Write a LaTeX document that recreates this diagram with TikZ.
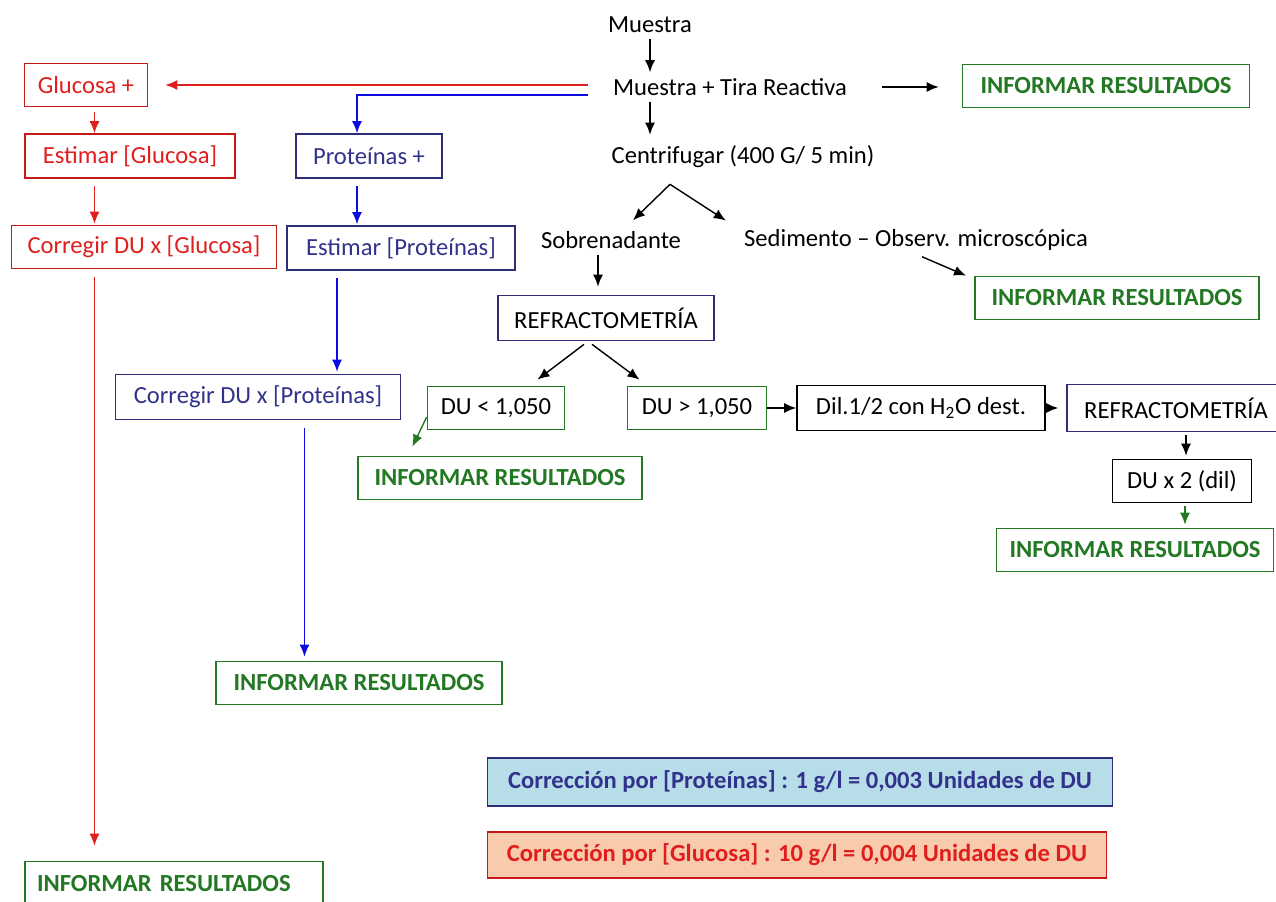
\documentclass[tikz,border=0pt]{standalone}
\usepackage{fontspec}
\setmainfont{Carlito}
\usetikzlibrary{arrows.meta}
\definecolor{rojo}{RGB}{225,30,30}
\definecolor{rojoB}{RGB}{200,25,25}
\definecolor{azul}{RGB}{10,10,225}
\definecolor{azulB}{RGB}{45,45,120}
\definecolor{azulT}{RGB}{50,50,140}
\definecolor{verde}{RGB}{35,120,35}
\definecolor{celeste}{RGB}{183,222,232}
\definecolor{salmon}{RGB}{248,203,173}
\begin{document}
\begin{tikzpicture}[x=0.02cm, y=-0.02cm, font=\fontsize{14}{17}\selectfont,
  caja/.style={draw, line width=0.95pt, fill=white, minimum height=0.86cm, inner sep=2pt},
  rcaja/.style={caja, draw=rojoB, text=rojo},
  acaja/.style={caja, draw=azulB, text=azulT},
  vcaja/.style={caja, draw=verde, text=verde, font=\fontsize{14}{17}\selectfont\bfseries},
  ncaja/.style={caja, draw=black},
  flecha/.style={-{Latex[length=2.4mm,width=2mm]}, line width=0.8pt},
  rflecha/.style={flecha, draw=rojo},
  aflecha/.style={flecha, draw=azul},
  vflecha/.style={flecha, draw=verde}]
\useasboundingbox (0,0) rectangle (1276,902);

% columna central
\node (muestra) at (650,25) {Muestra};
\node (tira) at (730,87) {Muestra + Tira Reactiva};
\node[vcaja, minimum width=5.74cm] (infA) at (1106,86) {INFORMAR RESULTADOS};
\node (centri) at (743,157) {Centrifugar (400 G/ 5 min)};
\node (sobre) at (611,240) {Sobrenadante};
\node (sedi) at (916,240) {Sedimento -- Observ. microscópica};
\node[vcaja, minimum width=5.68cm] (infS) at (1117,298) {INFORMAR RESULTADOS};
\node[acaja, text=black, minimum width=4.32cm, minimum height=0.9cm] (refr) at (606,318) {REFRACTOMETRÍA};
\node[caja, draw=verde, minimum width=2.74cm] (duL) at (496,408) {DU < 1,050};
\node[caja, draw=verde, minimum width=2.78cm] (duH) at (697,408) {DU > 1,050};
\node[ncaja, minimum width=4.96cm, minimum height=0.9cm] (dil) at (921,408) {Dil.1/2 con H\textsubscript{2}O dest.};
\node[acaja, text=black, minimum width=4.36cm, minimum height=0.94cm] (refr2) at (1176,408) {REFRACTOMETRÍA};
\node[vcaja, minimum width=5.68cm] (infL) at (500,478) {INFORMAR RESULTADOS};
\node[ncaja, minimum width=2.78cm] (dux) at (1182,481) {DU x 2 (dil)};
\node[vcaja, minimum width=5.54cm] (infD) at (1135,550) {INFORMAR RESULTADOS};

% glucosa
\node[rcaja, minimum width=2.46cm] (gluP) at (86,85) {Glucosa +};
\node[rcaja, minimum width=4.2cm, minimum height=0.88cm] (estG) at (130,156) {Estimar [Glucosa]};
\node[rcaja, minimum width=5.3cm] (corG) at (144,247) {Corregir DU x [Glucosa]};
\node[vcaja, inner xsep=0.24cm, text width=5.48cm, align=left, minimum height=0.9cm] (infG) at (174,884) {INFORMAR RESULTADOS};

% proteinas
\node[acaja, minimum width=2.92cm, minimum height=0.88cm] (protP) at (369,156) {Proteínas +};
\node[acaja, minimum width=4.56cm, minimum height=0.88cm] (estP) at (401,248) {Estimar [Proteínas]};
\node[acaja, minimum width=5.7cm, minimum height=0.9cm] (corP) at (258,397) {Corregir DU x [Proteínas]};
\node[vcaja, minimum width=5.72cm] (infP) at (359,683) {INFORMAR RESULTADOS};

% correcciones
\node[caja, draw=azulB, fill=celeste, text=azulT, font=\fontsize{14}{17}\selectfont\bfseries,
  minimum width=12.5cm, minimum height=0.96cm] (corrP) at (800,782)
  {Corrección por [Proteínas] : 1 g/l = 0,003 Unidades de DU};
\node[caja, draw=rojoB, fill=salmon, text=rojo, font=\fontsize{14}{17}\selectfont\bfseries,
  minimum width=12.38cm, minimum height=0.92cm] (corrG) at (797,855)
  {Corrección por [Glucosa] : 10 g/l = 0,004 Unidades de DU};

% flechas negras
\draw[flecha] (muestra.south) -- (muestra.south |- tira.north);
\draw[flecha, shorten <=0.58cm, shorten >=0.46cm] (tira.east) -- (tira.east -| infA.west);
\draw[flecha, shorten >=0.1cm] (muestra.south |- tira.south) -- (muestra.south |- centri.north);
\draw[flecha, shorten >=0.14cm] ([xshift=-1.46cm,yshift=-0.2cm]centri.south) -- ([xshift=0.34cm]sobre.north);
\draw[flecha, shorten >=0.1cm] ([xshift=-1.46cm,yshift=-0.2cm]centri.south) -- ([xshift=-3.72cm]sedi.north);
\draw[flecha] ([xshift=0.12cm]sedi.south) -- ([xshift=-3.02cm]infS.north);
\draw[flecha, shorten >=0.16cm] ([xshift=-0.26cm]sobre.south) -- ([xshift=-0.26cm]sobre.south |- refr.north);
\draw[flecha, shorten <=0.1cm, shorten >=0.2cm] ([xshift=-0.36cm]refr.south) -- ([xshift=0.67cm]duL.north);
\draw[flecha, shorten <=0.1cm, shorten >=0.2cm] ([xshift=-0.36cm]refr.south) -- ([xshift=-0.99cm]duH.north);
\draw[flecha] (duH.east) -- (dil.west);
\draw[flecha, shorten <=0.06cm, shorten >=0.16cm] (dil.east) -- (refr2.west);
\draw[flecha, shorten <=0.06cm, shorten >=0.06cm] ([xshift=0.2cm]refr2.south) -- ([xshift=0.2cm]refr2.south |- dux.north);
\draw[vflecha, shorten <=0.06cm, shorten >=0.06cm] ([xshift=0.06cm]dux.south) -- ([xshift=0.06cm]dux.south |- infD.north);
\draw[vflecha, shorten >=0.2cm] ([yshift=-0.18cm]duL.west) -- ([xshift=-1.84cm]infL.north);

% flechas rojas
\draw[rflecha, shorten <=0.38cm, shorten >=0.34cm] ([yshift=0.04cm]tira.west) -- ([yshift=0.04cm]tira.west -| gluP.east);
\draw[rflecha, shorten <=0.1cm] ([xshift=0.17cm]gluP.south) -- ([xshift=0.17cm]gluP.south |- estG.north);
\draw[rflecha, shorten <=0.14cm, shorten >=0.02cm] ([xshift=0.17cm]gluP.south |- estG.south) -- ([xshift=0.17cm]gluP.south |- corG.north);
\draw[rflecha, shorten <=0.16cm, shorten >=0.3cm] ([xshift=0.17cm]gluP.south |- corG.south) -- ([xshift=0.17cm]gluP.south |- infG.north);

% flechas azules
\draw[aflecha, shorten <=0.38cm] ([yshift=-0.16cm]tira.west) -| ([xshift=-0.24cm]protP.north);
\draw[aflecha, shorten <=0.14cm, shorten >=0.02cm] ([xshift=-0.24cm]protP.south) -- ([xshift=-0.24cm]protP.south |- estP.north);
\draw[aflecha, shorten <=0.14cm, shorten >=0.04cm] ([xshift=-1.28cm]estP.south) -- ([xshift=-1.28cm]estP.south |- corP.north);
\draw[aflecha, shorten <=0.16cm, shorten >=0.08cm] ([xshift=0.93cm]corP.south) -- ([xshift=0.93cm]corP.south |- infP.north);
\end{tikzpicture}
\end{document}
